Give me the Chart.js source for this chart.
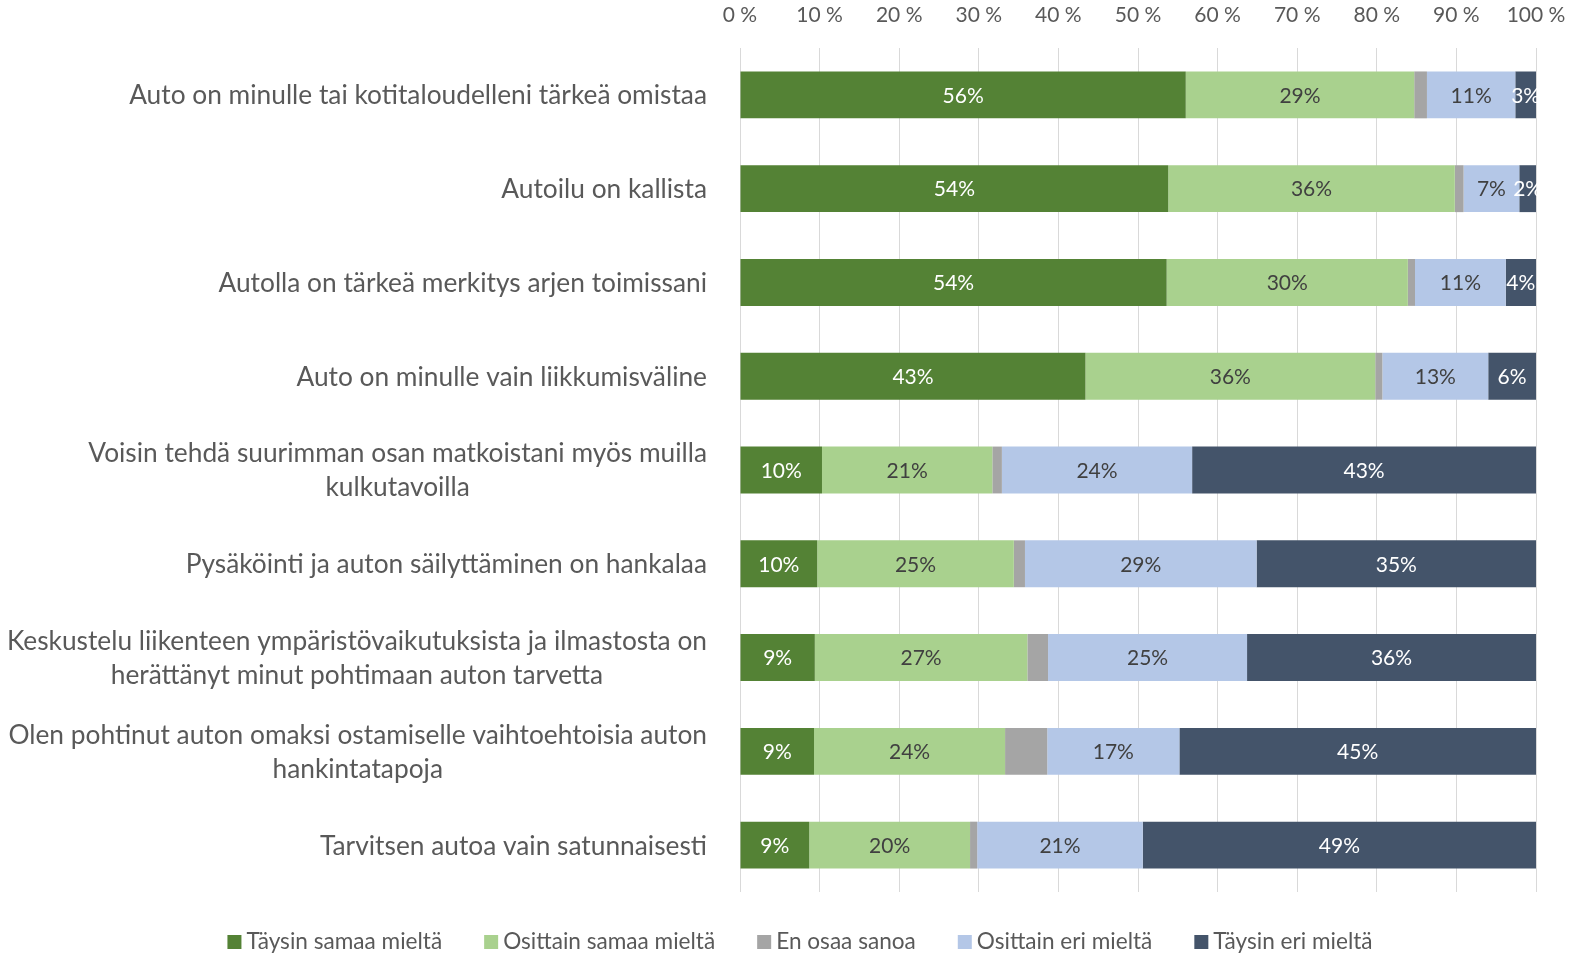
<!DOCTYPE html>
<html>
<head>
<meta charset="utf-8">
<script src="https://cdn.jsdelivr.net/npm/chart.js@4/dist/chart.umd.min.js"></script>
<style>
  html, body { margin: 0; padding: 0; background: #fff; }
</style>
</head>
<body>
<canvas id="myChart" width="1570" height="955"></canvas>
<script>
// statements, one per bar (each entry = lines of the label)
const categories = [
  ['Auto on minulle tai kotitaloudelleni tärkeä omistaa'],
  ['Autoilu on kallista'],
  ['Autolla on tärkeä merkitys arjen toimissani'],
  ['Auto on minulle vain liikkumisväline'],
  ['Voisin tehdä suurimman osan matkoistani myös muilla', 'kulkutavoilla'],
  ['Pysäköinti ja auton säilyttäminen on hankalaa'],
  ['Keskustelu liikenteen ympäristövaikutuksista ja ilmastosta on', 'herättänyt minut pohtimaan auton tarvetta'],
  ['Olen pohtinut auton omaksi ostamiselle vaihtoehtoisia auton', 'hankintatapoja'],
  ['Tarvitsen autoa vain satunnaisesti']
];

const seriesNames = ['Täysin samaa mieltä', 'Osittain samaa mieltä', 'En osaa sanoa', 'Osittain eri mieltä', 'Täysin eri mieltä'];

const fullyAgree     = [56.0, 53.8, 53.6, 43.4, 10.3,  9.7,  9.4,  9.3,  8.7];
const partlyAgree    = [28.7, 36.0, 30.3, 36.4, 21.4, 24.7, 26.7, 24.0, 20.2];
const cantSay        = [ 1.6,  1.1,  0.9,  0.9,  1.2,  1.4,  2.6,  5.3,  0.9];
const partlyDisagree = [11.1,  7.0, 11.4, 13.3, 23.9, 29.1, 25.0, 16.6, 20.8];
const fullyDisagree  = [ 2.6,  2.1,  3.8,  6.0, 43.2, 35.1, 36.3, 44.8, 49.4];

const xTicks = [0, 10, 20, 30, 40, 50, 60, 70, 80, 90, 100];

const colors = ['#548235', '#A9D18E', '#A5A5A5', '#B4C7E7', '#44546A'];
const labelColors = ['#ffffff', '#404040', null, '#404040', '#ffffff'];
const textColor = '#595959';

const yLabelsPlugin = {
  id: 'yLabels',
  afterDraw(chart) {
    const ctx = chart.ctx;
    const yScale = chart.scales.y;
    ctx.save();
    ctx.font = '26.3px Lato';
    ctx.fillStyle = textColor;
    ctx.textAlign = 'center';
    ctx.textBaseline = 'middle';
    categories.forEach((lines, i) => {
      const y = yScale.getPixelForValue(i) + 1;
      const maxW = Math.max(...lines.map(l => ctx.measureText(l).width));
      const cx = chart.chartArea.left - 33 - maxW / 2;
      lines.forEach((l, j) => {
        ctx.fillText(l, cx, y + (j - (lines.length - 1) / 2) * 34);
      });
    });
    ctx.restore();
  }
};

const valueLabelsPlugin = {
  id: 'valueLabels',
  afterDatasetsDraw(chart) {
    const ctx = chart.ctx;
    ctx.save();
    ctx.font = '21px Lato';
    ctx.textAlign = 'center';
    ctx.textBaseline = 'middle';
    chart.data.datasets.forEach((ds, di) => {
      if (!labelColors[di]) return;
      ctx.fillStyle = labelColors[di];
      chart.getDatasetMeta(di).data.forEach((bar, i) => {
        ctx.fillText(Math.round(ds.data[i]) + '%', (bar.x + bar.base) / 2, bar.y + 1);
      });
    });
    ctx.restore();
  }
};

const bottomLegendPlugin = {
  id: 'bottomLegend',
  afterDraw(chart) {
    const ctx = chart.ctx;
    ctx.save();
    ctx.font = '22.6px Lato';
    ctx.textBaseline = 'middle';
    ctx.textAlign = 'left';
    const box = 14, gapText = 5, gapItem = 42;
    const items = chart.data.datasets.map(ds => ({
      label: ds.label, color: ds.backgroundColor, w: ctx.measureText(ds.label).width
    }));
    const total = items.reduce((s, it) => s + box + gapText + it.w, 0) + gapItem * (items.length - 1);
    let x = 800 - total / 2;
    const y = 942;
    items.forEach(it => {
      ctx.fillStyle = it.color;
      ctx.fillRect(x, y - box / 2, box, box);
      ctx.fillStyle = textColor;
      ctx.fillText(it.label, x + box + gapText, y);
      x += box + gapText + it.w + gapItem;
    });
    ctx.restore();
  }
};

const seriesData = [fullyAgree, partlyAgree, cantSay, partlyDisagree, fullyDisagree];

const ctx = document.getElementById('myChart').getContext('2d');
const chart = new Chart(ctx, {
  type: 'bar',
  data: {
    labels: categories,
    datasets: seriesNames.map((name, i) => ({
      label: name,
      data: seriesData[i],
      backgroundColor: colors[i],
      borderWidth: 0,
      barPercentage: 0.5,
      categoryPercentage: 1
    }))
  },
  options: {
    indexAxis: 'y',
    responsive: false,
    animation: false,
    layout: {
      padding: { top: 5, right: 34, bottom: 63, left: 0 }
    },
    scales: {
      x: {
        position: 'top',
        stacked: true,
        min: 0,
        max: 100,
        afterBuildTicks: (scale) => {
          scale.ticks = xTicks.map(v => ({ value: v }));
        },
        afterFit: (scale) => {
          scale.height = 43;
          scale.paddingLeft = 0;
          scale.paddingRight = 0;
        },
        ticks: {
          padding: 20,
          color: textColor,
          font: { family: 'Lato', size: 21 },
          callback: (v) => v + ' %'
        },
        grid: { color: '#D9D9D9', lineWidth: 1, drawTicks: false },
        border: { display: false }
      },
      y: {
        stacked: true,
        ticks: { display: false },
        grid: { display: false },
        border: { display: false },
        afterFit: (scale) => { scale.width = 740; }
      }
    },
    plugins: {
      legend: { display: false },
      tooltip: { enabled: false }
    }
  },
  plugins: [valueLabelsPlugin, yLabelsPlugin, bottomLegendPlugin]
});
</script>
</body>
</html>
